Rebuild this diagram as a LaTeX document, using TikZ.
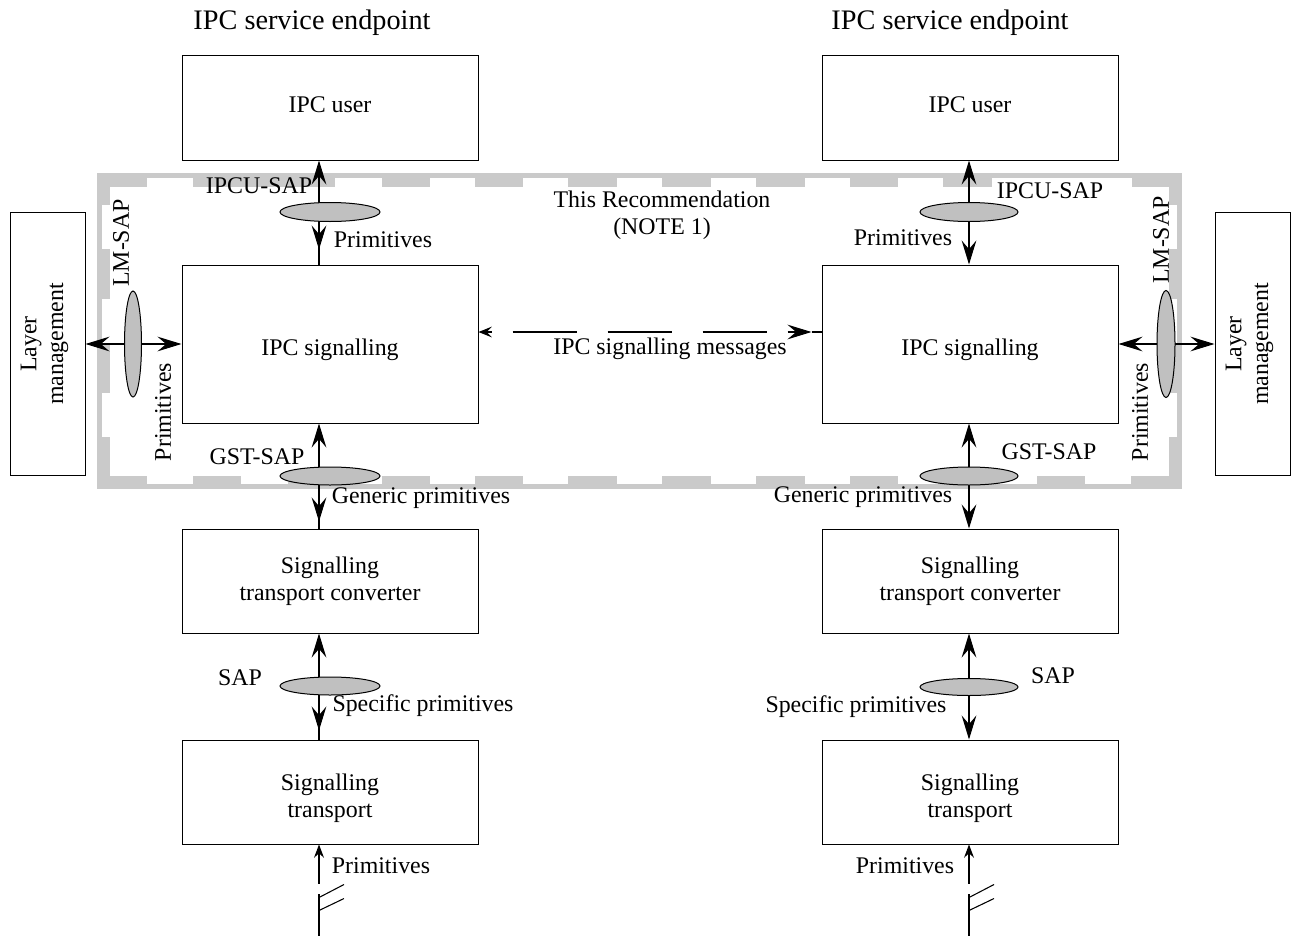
\documentclass[tikz,border=0pt]{standalone}
\usepackage{fontspec}
\setmainfont{Liberation Serif}
\usetikzlibrary{arrows.meta,calc,shapes.geometric}
\newdimen\upx \upx=0.75pt
\definecolor{bandgray}{RGB}{202,202,202}
\definecolor{sapgray}{RGB}{192,192,192}
\begin{document}
\begin{tikzpicture}[x=0.75pt,y=-0.75pt,
  font=\fontsize{17.9}{20}\selectfont,
  box/.style={draw,line width=0.75pt,minimum width=296\upx,align=center,inner sep=0pt},
  lmbox/.style={draw,line width=0.75pt,minimum width=75\upx,minimum height=263\upx,inner sep=0pt},
  sapell/.style={ellipse,draw,fill=sapgray,line width=0.75pt,inner sep=0pt},
  conn/.style={line width=0.8pt},
  lbl/.style={inner sep=0pt},
  toplbl/.style={inner sep=0pt,font=\fontsize{21.2}{24}\selectfont},
  big/.tip={Stealth[length=18pt,width=11pt,inset=6.5pt]},
  small/.tip={Stealth[length=10pt,width=7.5pt,inset=3.5pt]},
  band/.style={fill=bandgray}
]
\useasboundingbox (0,0) rectangle (1291,935);

% grey boundary of the recommendation
\draw[bandgray,line width=5\upx] (99.5,175.5) rectangle (1179.5,486.5);
\foreach \a/\b in {97/147,193/335,382/430,475/523,568/617,662/711,756/805,850/898,943/992,1132/1182}
  \fill[band] (\a,177) rectangle (\b,187);
\foreach \a/\b in {97/147,193/241,288/335,382/430,475/523,568/617,662/711,756/805,850/898,943/992,1037/1085,1131/1182}
  \fill[band] (\a,476) rectangle (\b,485);
\foreach \a/\b in {173/205,249/299,343/393,437/489}{
  \fill[band] (97,\a) rectangle (110,\b);
  \fill[band] (1169,\a) rectangle (1182,\b);
}

% boxes, left stack
\node[box,minimum height=105\upx] (userL) at (330,107.5) {};
\node[box,minimum height=158\upx] (sigL) at (330,344) {};
\node[box,minimum height=104\upx] (stcL) at (330,581) {};
\node[box,minimum height=104\upx] (stL) at (330,792) {};
% boxes, right stack
\node[box,minimum height=105\upx] (userR) at (970,107.5) {};
\node[box,minimum height=158\upx] (sigR) at (970,344) {};
\node[box,minimum height=104\upx] (stcR) at (970,581) {};
\node[box,minimum height=104\upx] (stR) at (970,792) {};
% box texts
\foreach \s in {L,R}{
  \node[lbl] (userT\s) at ($(user\s.center)+(0,-3)$) {IPC user};
  \node[lbl] (sigT\s) at ($(sig\s.center)+(0,6)$) {IPC signalling};
  \node[lbl,align=center] (stcT\s) at ($(stc\s.center)+(0,0)$) {Signalling\\transport converter};
  \node[lbl,align=center] (stT\s) at ($(st\s.center)+(0,6)$) {Signalling\\transport};
}
% layer management
\node[lmbox] (lmL) at (47.5,344) {};
\node[rotate=90,align=center,lbl] (lmLt) at ($(lmL.center)+(-3,0)$) {Layer\\management};
\node[lmbox] (lmR) at (1252.5,344) {};
\node[rotate=90,align=center,lbl] (lmRt) at ($(lmR.center)+(-3,0)$) {Layer\\management};

% interface axes
\coordinate (xL) at (319,0);
\coordinate (xR) at (969,0);
\coordinate (cUL) at (330,212);
\coordinate (cUR) at (969,212);
\coordinate (cGL) at (330,476);
\coordinate (cGR) at (969,476);
\coordinate (cSL) at (330,686);
\coordinate (cSR) at (969,687);
\coordinate (cML) at (133,344);
\coordinate (cMR) at (1166,344);

% IPCU-SAP
\draw[conn,{big}-] (userL.south -| xL) -- (sigL.north -| xL);
\draw[conn,-{big}] (cUL -| xL) -- ($(sigL.north -| xL)+(0,-15)$);
\draw[conn,{big}-{big}] (userR.south -| xR) -- (sigR.north -| xR);
% GST-SAP
\draw[conn,{big}-] (sigL.south -| xL) -- (stcL.north -| xL);
\draw[conn,-{big}] (cGL -| xL) -- ($(stcL.north -| xL)+(0,-7)$);
\draw[conn,{big}-{big}] (sigR.south -| xR) -- (stcR.north -| xR);
% SAP
\draw[conn,{big}-] (stcL.south -| xL) -- (stL.north -| xL);
\draw[conn,-{big}] (cSL -| xL) -- ($(stL.north -| xL)+(0,-9)$);
\draw[conn,{big}-{big}] (stcR.south -| xR) -- (stR.north -| xR);
% LM-SAP
\draw[conn,{big}-{big}] (lmL.east) -- (sigL.west);
\draw[conn,{big}-{big}] (sigR.east) -- (lmR.west);

% IPC signalling messages
\coordinate (mL) at ($(sigL.east)+(0,-12)$);
\coordinate (mR) at ($(sigR.west)+(0,-12)$);
\draw[conn,-{Stealth[length=10pt,width=8pt,inset=4pt]}] ($(mL)+(13,0)$) -- (mL);
\draw[conn,dash pattern=on 64\upx off 31\upx] ($(mL)+(34,0)$) -- ($(mL)+(290,0)$);
\draw[conn,-{big}] ($(mR)+(-34,0)$) -- ($(mR)+(-10,0)$);
\draw[conn] ($(mR)+(-10,0)$) -- (mR);

% primitives from below, with line breaks
\coordinate (bL) at ($(stL.south -| xL)+(0,91)$);
\coordinate (bR) at ($(stR.south -| xR)+(0,91)$);
\foreach \b/\s in {bL/stL,bR/stR}{
  \draw[conn,-{small}] ($(\b)+(0,-52)$) -- (\s.south -| \b);
  \draw[conn] (\b) -- ++(0,-42);
  \draw[conn] ($(\b)+(0,-38)$) -- ++(25,-13);
  \draw[conn] ($(\b)+(0,-25)$) -- ++(25,-12);
}

% service access points
\node[sapell,minimum width=100\upx,minimum height=19\upx] (sapUL) at (cUL) {};
\node[sapell,minimum width=98\upx,minimum height=19\upx] (sapUR) at (cUR) {};
\node[sapell,minimum width=100\upx,minimum height=18\upx] (sapGL) at (cGL) {};
\node[sapell,minimum width=98\upx,minimum height=18\upx] (sapGR) at (cGR) {};
\node[sapell,minimum width=100\upx,minimum height=18\upx] (sapSL) at (cSL) {};
\node[sapell,minimum width=98\upx,minimum height=17\upx] (sapSR) at (cSR) {};
\node[sapell,minimum width=17\upx,minimum height=106\upx] (sapML) at (cML) {};
\node[sapell,minimum width=18\upx,minimum height=107\upx] (sapMR) at (cMR) {};

% labels
\node[toplbl] (epL) at (312,23) {IPC service endpoint};
\node[toplbl] (epR) at (950,23) {IPC service endpoint};
\node[lbl] (tUL) at (259,186) {IPCU-SAP};
\node[lbl] (tUR) at (1050,191) {IPCU-SAP};
\node[lbl] (pUL) at (383,240) {Primitives};
\node[lbl] (pUR) at (903,238) {Primitives};
\node[lbl,align=center] (rec) at (662,215) {This Recommendation\\(NOTE 1)};
\node[lbl] (msg) at (670,349) {IPC signalling messages};
\node[lbl,rotate=90] (tML) at (121,243) {LM-SAP};
\node[lbl,rotate=90] (tMR) at (1161,240) {LM-SAP};
\node[lbl,rotate=90] (pML) at (163,412) {Primitives};
\node[lbl,rotate=90] (pMR) at (1140,412) {Primitives};
\node[lbl] (tGL) at (257,457) {GST-SAP};
\node[lbl] (tGR) at (1049,452) {GST-SAP};
\node[lbl] (pGL) at (421,498) {Generic primitives};
\node[lbl] (pGR) at (863,497) {Generic primitives};
\node[lbl] (tSL) at (240,678) {SAP};
\node[lbl] (tSR) at (1053,676) {SAP};
\node[lbl] (pSL) at (423,706) {Specific primitives};
\node[lbl] (pSR) at (856,707) {Specific primitives};
\node[lbl] (pBL) at (381,866) {Primitives};
\node[lbl] (pBR) at (905,866) {Primitives};
\end{tikzpicture}
\end{document}
